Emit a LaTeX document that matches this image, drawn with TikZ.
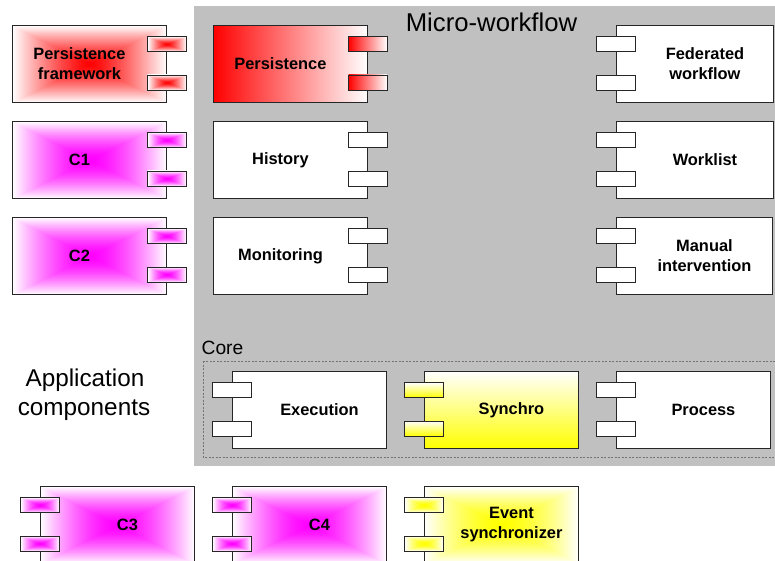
\documentclass[tikz,border=0pt]{standalone}
\usepackage{fontspec}
\setmainfont{Liberation Sans}
\pgfdeclarefunctionalshading{boxred}{\pgfpoint{-50bp}{-50bp}}{\pgfpoint{50bp}{50bp}}{}{abs exch abs 2 copy lt {exch} if pop 25 div dup 1 gt {pop 1} if dup sqrt sqrt mul dup 1 3 1 roll}
\pgfdeclarefunctionalshading{boxmag}{\pgfpoint{-50bp}{-50bp}}{\pgfpoint{50bp}{50bp}}{}{abs exch abs 2 copy lt {exch} if pop 25 div dup 1 gt {pop 1} if dup sqrt mul 1 exch 1}
\pgfdeclarefunctionalshading{boxyel}{\pgfpoint{-50bp}{-50bp}}{\pgfpoint{50bp}{50bp}}{}{abs exch abs 2 copy lt {exch} if pop 25 div dup 1 gt {pop 1} if dup sqrt mul 1 exch 1 exch}
\definecolor{panelgray}{HTML}{C0C0C0}
\definecolor{edgecol}{HTML}{262626}
\tikzset{
  comp/.style={draw=edgecol, line width=0.9pt, minimum width=154pt, minimum height=77pt, inner sep=0pt},
  port/.style={draw=edgecol, line width=0.9pt, minimum width=38.5pt, minimum height=15pt, inner sep=0pt},
  lbl/.style={font=\fontsize{16.4}{20}\selectfont\bfseries, align=center, inner sep=0pt},
  plainfill/.style={fill=white},
  bred/.style={shade, shading=boxred},
  bmag/.style={shade, shading=boxmag},
  byel/.style={shade, shading=boxyel},
  lrred/.style={left color=red, right color=white},
  vyel/.style={top color=white, bottom color=yellow},
  title/.style={font=\fontsize{25.7}{30}\selectfont, inner sep=0pt},
  apptext/.style={font=\fontsize{24.3}{29}\selectfont, inner sep=0pt},
  coretext/.style={font=\fontsize{19.2}{23}\selectfont, inner sep=0pt},
  corebox/.style={draw=black!55, line width=0.7pt, dash pattern=on 2pt off 1.5pt},
}
\newcommand{\comprt}[6]{%
  \node[comp,#4,anchor=north west] (#1) at (#2,#3) {};
  \node[port,#5] (#1p1) at ([yshift=-19pt]#1.north east) {};
  \node[port,#5] (#1p2) at ([yshift=-57.5pt]#1.north east) {};
  \node[lbl] (#1t) at ([xshift=-10pt]#1.center) {#6};
}
\newcommand{\complt}[6]{%
  \node[comp,#4,anchor=north west] (#1) at (#2,#3) {};
  \node[port,#5] (#1p1) at ([yshift=-19pt]#1.north west) {};
  \node[port,#5] (#1p2) at ([yshift=-57.5pt]#1.north west) {};
  \node[lbl] (#1t) at ([xshift=10pt]#1.center) {#6};
}
\begin{document}
\begin{tikzpicture}[x=1pt,y=-1pt]
\useasboundingbox (0,0) rectangle (775,561);
\fill[white] (0,0) rectangle (775,561);
\fill[panelgray] (194,6) rectangle (780,466);
\node[title, anchor=base] (mw) at (491.5,31.5) {Micro-workflow};
\node[coretext, anchor=base west] (core) at (201.5,354) {Core};
\draw[corebox] (203,361) rectangle (785,457);
\node[apptext, anchor=base] (app1) at (85,386) {Application};
\node[apptext, anchor=base] (app2) at (84,415) {components};
\comprt{pf}{12}{25}{bred}{bred}{Persistence\\framework}
\comprt{ca}{12}{121}{bmag}{bmag}{C1}
\comprt{cb}{12}{217}{bmag}{bmag}{C2}
\comprt{per}{213}{25}{lrred}{lrred}{Persistence}
\comprt{his}{213}{121}{plainfill}{plainfill}{History}
\comprt{mon}{213}{217}{plainfill}{plainfill}{Monitoring}
\complt{fed}{616}{25}{plainfill,minimum width=157pt}{plainfill}{Federated\\workflow}
\complt{wl}{616}{121}{plainfill,minimum width=157pt}{plainfill}{Worklist}
\complt{man}{616}{217}{plainfill,minimum width=156pt}{plainfill}{Manual\\intervention}
\complt{exe}{232}{371}{plainfill}{plainfill}{Execution}
\complt{syn}{424}{371}{vyel}{vyel}{Synchro}
\complt{pro}{616}{371}{plainfill}{plainfill}{Process}
\complt{cc}{40}{486}{bmag}{bmag}{C3}
\complt{cd}{232}{486}{bmag}{bmag}{C4}
\complt{ev}{424}{486}{byel}{byel}{Event\\synchronizer}
\end{tikzpicture}
\end{document}
